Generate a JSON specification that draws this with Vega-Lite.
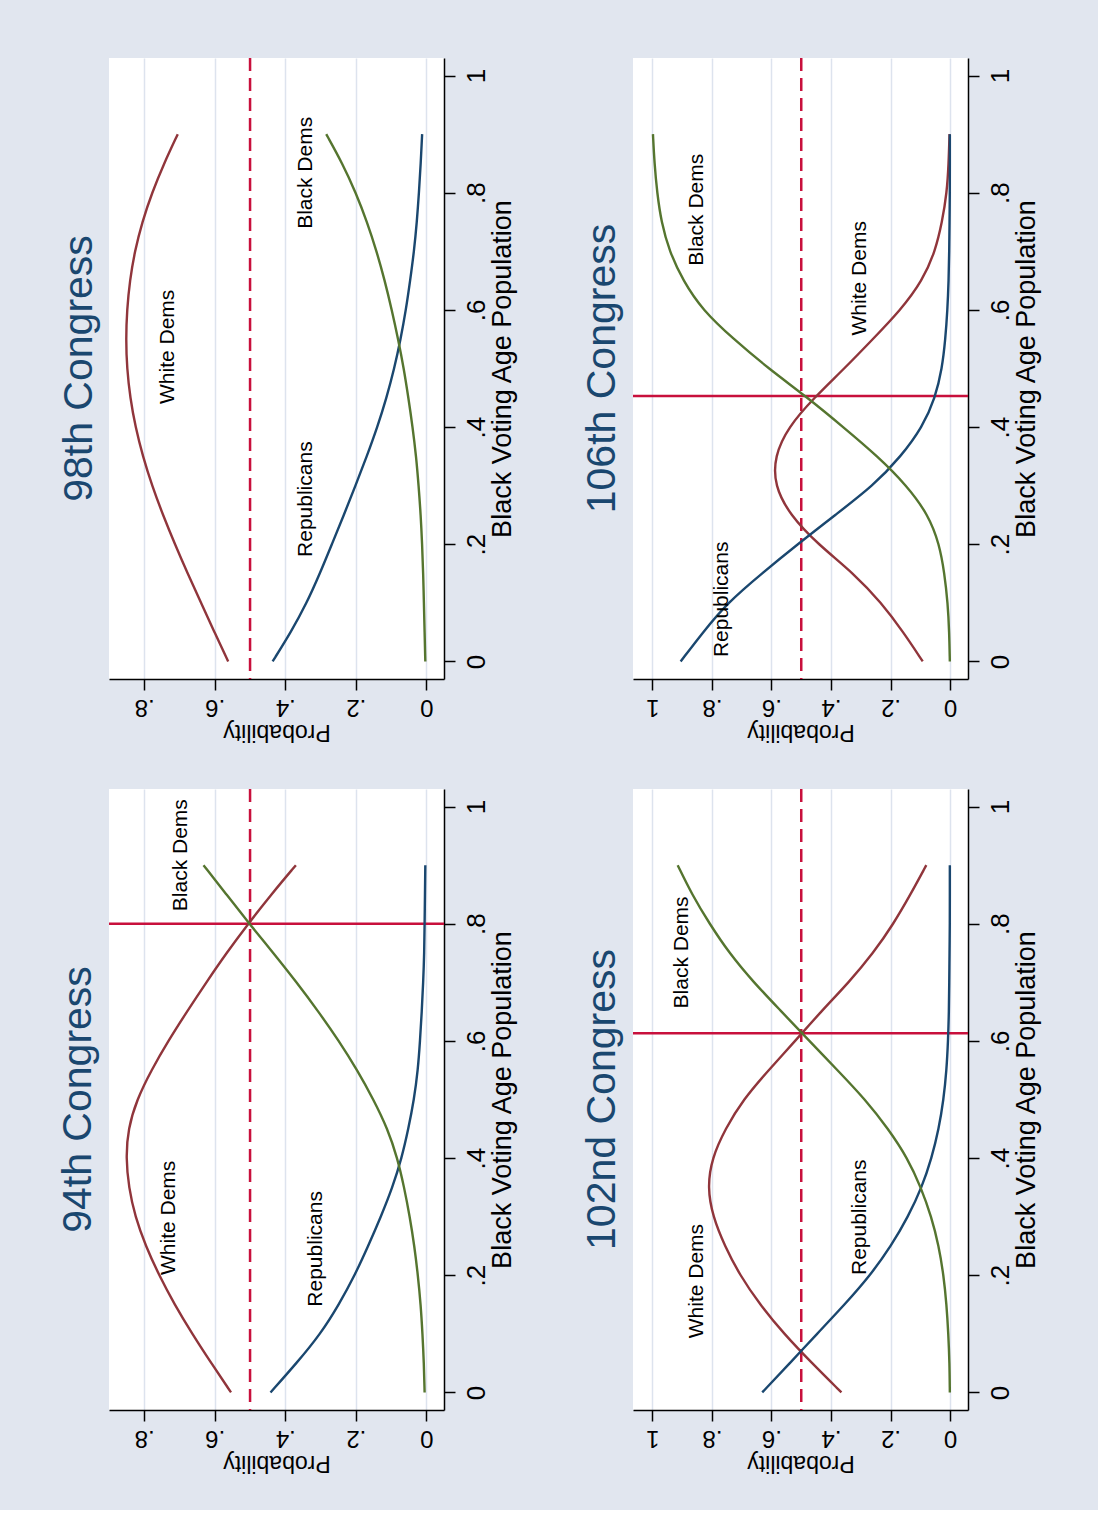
{
  "$schema": "https://vega.github.io/schema/vega-lite/v6.json",
  "background": "#e1e6ef",
  "padding": {"left": 57, "top": 56, "right": 58, "bottom": 37},
  "autosize": {"type": "pad"},
  "columns": 2,
  "bounds": "flush",
  "spacing": {"row": 110, "column": 189},
  "datasets": {
    "curves": [
      {"panel":"94","party":"White Dems","bvap":0,"prob":0.554},{"panel":"94","party":"White Dems","bvap":0.05,"prob":0.61},{"panel":"94","party":"White Dems","bvap":0.1,"prob":0.664},{"panel":"94","party":"White Dems","bvap":0.15,"prob":0.714},{"panel":"94","party":"White Dems","bvap":0.2,"prob":0.758},{"panel":"94","party":"White Dems","bvap":0.25,"prob":0.796},{"panel":"94","party":"White Dems","bvap":0.3,"prob":0.826},{"panel":"94","party":"White Dems","bvap":0.35,"prob":0.844},{"panel":"94","party":"White Dems","bvap":0.4,"prob":0.852},{"panel":"94","party":"White Dems","bvap":0.45,"prob":0.846},{"panel":"94","party":"White Dems","bvap":0.5,"prob":0.821},{"panel":"94","party":"White Dems","bvap":0.55,"prob":0.78},{"panel":"94","party":"White Dems","bvap":0.6,"prob":0.732},{"panel":"94","party":"White Dems","bvap":0.65,"prob":0.679},{"panel":"94","party":"White Dems","bvap":0.7,"prob":0.624},{"panel":"94","party":"White Dems","bvap":0.75,"prob":0.567},{"panel":"94","party":"White Dems","bvap":0.8,"prob":0.505},{"panel":"94","party":"White Dems","bvap":0.85,"prob":0.44},{"panel":"94","party":"White Dems","bvap":0.9,"prob":0.37},
      {"panel":"94","party":"Republicans","bvap":0,"prob":0.442},{"panel":"94","party":"Republicans","bvap":0.05,"prob":0.368},{"panel":"94","party":"Republicans","bvap":0.1,"prob":0.3},{"panel":"94","party":"Republicans","bvap":0.15,"prob":0.248},{"panel":"94","party":"Republicans","bvap":0.2,"prob":0.203},{"panel":"94","party":"Republicans","bvap":0.25,"prob":0.165},{"panel":"94","party":"Republicans","bvap":0.3,"prob":0.129},{"panel":"94","party":"Republicans","bvap":0.35,"prob":0.096},{"panel":"94","party":"Republicans","bvap":0.4,"prob":0.07},{"panel":"94","party":"Republicans","bvap":0.45,"prob":0.051},{"panel":"94","party":"Republicans","bvap":0.5,"prob":0.035},{"panel":"94","party":"Republicans","bvap":0.55,"prob":0.024},{"panel":"94","party":"Republicans","bvap":0.6,"prob":0.018},{"panel":"94","party":"Republicans","bvap":0.65,"prob":0.013},{"panel":"94","party":"Republicans","bvap":0.7,"prob":0.009},{"panel":"94","party":"Republicans","bvap":0.75,"prob":0.006},{"panel":"94","party":"Republicans","bvap":0.8,"prob":0.005},{"panel":"94","party":"Republicans","bvap":0.85,"prob":0.004},{"panel":"94","party":"Republicans","bvap":0.9,"prob":0.003},
      {"panel":"94","party":"Black Dems","bvap":0,"prob":0.005},{"panel":"94","party":"Black Dems","bvap":0.05,"prob":0.007},{"panel":"94","party":"Black Dems","bvap":0.1,"prob":0.011},{"panel":"94","party":"Black Dems","bvap":0.15,"prob":0.016},{"panel":"94","party":"Black Dems","bvap":0.2,"prob":0.024},{"panel":"94","party":"Black Dems","bvap":0.25,"prob":0.034},{"panel":"94","party":"Black Dems","bvap":0.3,"prob":0.047},{"panel":"94","party":"Black Dems","bvap":0.35,"prob":0.063},{"panel":"94","party":"Black Dems","bvap":0.4,"prob":0.082},{"panel":"94","party":"Black Dems","bvap":0.45,"prob":0.11},{"panel":"94","party":"Black Dems","bvap":0.5,"prob":0.15},{"panel":"94","party":"Black Dems","bvap":0.55,"prob":0.196},{"panel":"94","party":"Black Dems","bvap":0.6,"prob":0.248},{"panel":"94","party":"Black Dems","bvap":0.65,"prob":0.306},{"panel":"94","party":"Black Dems","bvap":0.7,"prob":0.368},{"panel":"94","party":"Black Dems","bvap":0.75,"prob":0.434},{"panel":"94","party":"Black Dems","bvap":0.8,"prob":0.502},{"panel":"94","party":"Black Dems","bvap":0.85,"prob":0.567},{"panel":"94","party":"Black Dems","bvap":0.9,"prob":0.632},
      {"panel":"98","party":"White Dems","bvap":0,"prob":0.562},{"panel":"98","party":"White Dems","bvap":0.05,"prob":0.601},{"panel":"98","party":"White Dems","bvap":0.1,"prob":0.639},{"panel":"98","party":"White Dems","bvap":0.15,"prob":0.677},{"panel":"98","party":"White Dems","bvap":0.2,"prob":0.713},{"panel":"98","party":"White Dems","bvap":0.25,"prob":0.747},{"panel":"98","party":"White Dems","bvap":0.3,"prob":0.778},{"panel":"98","party":"White Dems","bvap":0.35,"prob":0.804},{"panel":"98","party":"White Dems","bvap":0.4,"prob":0.825},{"panel":"98","party":"White Dems","bvap":0.45,"prob":0.84},{"panel":"98","party":"White Dems","bvap":0.5,"prob":0.849},{"panel":"98","party":"White Dems","bvap":0.55,"prob":0.852},{"panel":"98","party":"White Dems","bvap":0.6,"prob":0.849},{"panel":"98","party":"White Dems","bvap":0.65,"prob":0.841},{"panel":"98","party":"White Dems","bvap":0.7,"prob":0.827},{"panel":"98","party":"White Dems","bvap":0.75,"prob":0.806},{"panel":"98","party":"White Dems","bvap":0.8,"prob":0.778},{"panel":"98","party":"White Dems","bvap":0.85,"prob":0.744},{"panel":"98","party":"White Dems","bvap":0.9,"prob":0.705},
      {"panel":"98","party":"Republicans","bvap":0,"prob":0.436},{"panel":"98","party":"Republicans","bvap":0.05,"prob":0.384},{"panel":"98","party":"Republicans","bvap":0.1,"prob":0.339},{"panel":"98","party":"Republicans","bvap":0.15,"prob":0.302},{"panel":"98","party":"Republicans","bvap":0.2,"prob":0.268},{"panel":"98","party":"Republicans","bvap":0.25,"prob":0.234},{"panel":"98","party":"Republicans","bvap":0.3,"prob":0.201},{"panel":"98","party":"Republicans","bvap":0.35,"prob":0.169},{"panel":"98","party":"Republicans","bvap":0.4,"prob":0.139},{"panel":"98","party":"Republicans","bvap":0.45,"prob":0.113},{"panel":"98","party":"Republicans","bvap":0.5,"prob":0.091},{"panel":"98","party":"Republicans","bvap":0.55,"prob":0.073},{"panel":"98","party":"Republicans","bvap":0.6,"prob":0.058},{"panel":"98","party":"Republicans","bvap":0.65,"prob":0.046},{"panel":"98","party":"Republicans","bvap":0.7,"prob":0.035},{"panel":"98","party":"Republicans","bvap":0.75,"prob":0.027},{"panel":"98","party":"Republicans","bvap":0.8,"prob":0.021},{"panel":"98","party":"Republicans","bvap":0.85,"prob":0.016},{"panel":"98","party":"Republicans","bvap":0.9,"prob":0.012},
      {"panel":"98","party":"Black Dems","bvap":0,"prob":0.003},{"panel":"98","party":"Black Dems","bvap":0.05,"prob":0.005},{"panel":"98","party":"Black Dems","bvap":0.1,"prob":0.007},{"panel":"98","party":"Black Dems","bvap":0.15,"prob":0.009},{"panel":"98","party":"Black Dems","bvap":0.2,"prob":0.012},{"panel":"98","party":"Black Dems","bvap":0.25,"prob":0.016},{"panel":"98","party":"Black Dems","bvap":0.3,"prob":0.022},{"panel":"98","party":"Black Dems","bvap":0.35,"prob":0.029},{"panel":"98","party":"Black Dems","bvap":0.4,"prob":0.039},{"panel":"98","party":"Black Dems","bvap":0.45,"prob":0.051},{"panel":"98","party":"Black Dems","bvap":0.5,"prob":0.064},{"panel":"98","party":"Black Dems","bvap":0.55,"prob":0.08},{"panel":"98","party":"Black Dems","bvap":0.6,"prob":0.098},{"panel":"98","party":"Black Dems","bvap":0.65,"prob":0.118},{"panel":"98","party":"Black Dems","bvap":0.7,"prob":0.141},{"panel":"98","party":"Black Dems","bvap":0.75,"prob":0.168},{"panel":"98","party":"Black Dems","bvap":0.8,"prob":0.2},{"panel":"98","party":"Black Dems","bvap":0.85,"prob":0.238},{"panel":"98","party":"Black Dems","bvap":0.9,"prob":0.284},
      {"panel":"102","party":"White Dems","bvap":0,"prob":0.365},{"panel":"102","party":"White Dems","bvap":0.05,"prob":0.464},{"panel":"102","party":"White Dems","bvap":0.1,"prob":0.558},{"panel":"102","party":"White Dems","bvap":0.15,"prob":0.639},{"panel":"102","party":"White Dems","bvap":0.2,"prob":0.706},{"panel":"102","party":"White Dems","bvap":0.25,"prob":0.757},{"panel":"102","party":"White Dems","bvap":0.3,"prob":0.797},{"panel":"102","party":"White Dems","bvap":0.35,"prob":0.815},{"panel":"102","party":"White Dems","bvap":0.4,"prob":0.8},{"panel":"102","party":"White Dems","bvap":0.45,"prob":0.755},{"panel":"102","party":"White Dems","bvap":0.5,"prob":0.695},{"panel":"102","party":"White Dems","bvap":0.55,"prob":0.61},{"panel":"102","party":"White Dems","bvap":0.6,"prob":0.52},{"panel":"102","party":"White Dems","bvap":0.65,"prob":0.434},{"panel":"102","party":"White Dems","bvap":0.7,"prob":0.34},{"panel":"102","party":"White Dems","bvap":0.75,"prob":0.258},{"panel":"102","party":"White Dems","bvap":0.8,"prob":0.19},{"panel":"102","party":"White Dems","bvap":0.85,"prob":0.133},{"panel":"102","party":"White Dems","bvap":0.9,"prob":0.08},
      {"panel":"102","party":"Republicans","bvap":0,"prob":0.631},{"panel":"102","party":"Republicans","bvap":0.05,"prob":0.538},{"panel":"102","party":"Republicans","bvap":0.1,"prob":0.447},{"panel":"102","party":"Republicans","bvap":0.15,"prob":0.354},{"panel":"102","party":"Republicans","bvap":0.2,"prob":0.268},{"panel":"102","party":"Republicans","bvap":0.25,"prob":0.198},{"panel":"102","party":"Republicans","bvap":0.3,"prob":0.141},{"panel":"102","party":"Republicans","bvap":0.35,"prob":0.095},{"panel":"102","party":"Republicans","bvap":0.4,"prob":0.062},{"panel":"102","party":"Republicans","bvap":0.45,"prob":0.038},{"panel":"102","party":"Republicans","bvap":0.5,"prob":0.022},{"panel":"102","party":"Republicans","bvap":0.55,"prob":0.012},{"panel":"102","party":"Republicans","bvap":0.6,"prob":0.007},{"panel":"102","party":"Republicans","bvap":0.65,"prob":0.004},{"panel":"102","party":"Republicans","bvap":0.7,"prob":0.003},{"panel":"102","party":"Republicans","bvap":0.75,"prob":0.002},{"panel":"102","party":"Republicans","bvap":0.8,"prob":0.001},{"panel":"102","party":"Republicans","bvap":0.85,"prob":0.001},{"panel":"102","party":"Republicans","bvap":0.9,"prob":0.001},
      {"panel":"102","party":"Black Dems","bvap":0,"prob":0.001},{"panel":"102","party":"Black Dems","bvap":0.05,"prob":0.002},{"panel":"102","party":"Black Dems","bvap":0.1,"prob":0.006},{"panel":"102","party":"Black Dems","bvap":0.15,"prob":0.012},{"panel":"102","party":"Black Dems","bvap":0.2,"prob":0.022},{"panel":"102","party":"Black Dems","bvap":0.25,"prob":0.038},{"panel":"102","party":"Black Dems","bvap":0.3,"prob":0.063},{"panel":"102","party":"Black Dems","bvap":0.35,"prob":0.098},{"panel":"102","party":"Black Dems","bvap":0.4,"prob":0.143},{"panel":"102","party":"Black Dems","bvap":0.45,"prob":0.208},{"panel":"102","party":"Black Dems","bvap":0.5,"prob":0.285},{"panel":"102","party":"Black Dems","bvap":0.55,"prob":0.378},{"panel":"102","party":"Black Dems","bvap":0.6,"prob":0.473},{"panel":"102","party":"Black Dems","bvap":0.65,"prob":0.566},{"panel":"102","party":"Black Dems","bvap":0.7,"prob":0.66},{"panel":"102","party":"Black Dems","bvap":0.75,"prob":0.742},{"panel":"102","party":"Black Dems","bvap":0.8,"prob":0.808},{"panel":"102","party":"Black Dems","bvap":0.85,"prob":0.867},{"panel":"102","party":"Black Dems","bvap":0.9,"prob":0.915},
      {"panel":"106","party":"White Dems","bvap":0,"prob":0.092},{"panel":"106","party":"White Dems","bvap":0.05,"prob":0.157},{"panel":"106","party":"White Dems","bvap":0.1,"prob":0.231},{"panel":"106","party":"White Dems","bvap":0.15,"prob":0.323},{"panel":"106","party":"White Dems","bvap":0.2,"prob":0.444},{"panel":"106","party":"White Dems","bvap":0.25,"prob":0.538},{"panel":"106","party":"White Dems","bvap":0.3,"prob":0.59},{"panel":"106","party":"White Dems","bvap":0.35,"prob":0.59},{"panel":"106","party":"White Dems","bvap":0.4,"prob":0.544},{"panel":"106","party":"White Dems","bvap":0.45,"prob":0.457},{"panel":"106","party":"White Dems","bvap":0.5,"prob":0.355},{"panel":"106","party":"White Dems","bvap":0.55,"prob":0.26},{"panel":"106","party":"White Dems","bvap":0.6,"prob":0.166},{"panel":"106","party":"White Dems","bvap":0.65,"prob":0.093},{"panel":"106","party":"White Dems","bvap":0.7,"prob":0.05},{"panel":"106","party":"White Dems","bvap":0.75,"prob":0.027},{"panel":"106","party":"White Dems","bvap":0.8,"prob":0.011},{"panel":"106","party":"White Dems","bvap":0.85,"prob":0.005},{"panel":"106","party":"White Dems","bvap":0.9,"prob":0.002},
      {"panel":"106","party":"Republicans","bvap":0,"prob":0.905},{"panel":"106","party":"Republicans","bvap":0.05,"prob":0.83},{"panel":"106","party":"Republicans","bvap":0.1,"prob":0.748},{"panel":"106","party":"Republicans","bvap":0.15,"prob":0.633},{"panel":"106","party":"Republicans","bvap":0.2,"prob":0.512},{"panel":"106","party":"Republicans","bvap":0.25,"prob":0.386},{"panel":"106","party":"Republicans","bvap":0.3,"prob":0.258},{"panel":"106","party":"Republicans","bvap":0.35,"prob":0.165},{"panel":"106","party":"Republicans","bvap":0.4,"prob":0.093},{"panel":"106","party":"Republicans","bvap":0.45,"prob":0.05},{"panel":"106","party":"Republicans","bvap":0.5,"prob":0.027},{"panel":"106","party":"Republicans","bvap":0.55,"prob":0.016},{"panel":"106","party":"Republicans","bvap":0.6,"prob":0.009},{"panel":"106","party":"Republicans","bvap":0.65,"prob":0.005},{"panel":"106","party":"Republicans","bvap":0.7,"prob":0.003},{"panel":"106","party":"Republicans","bvap":0.75,"prob":0.002},{"panel":"106","party":"Republicans","bvap":0.8,"prob":0.001},{"panel":"106","party":"Republicans","bvap":0.85,"prob":0.001},{"panel":"106","party":"Republicans","bvap":0.9,"prob":0.001},
      {"panel":"106","party":"Black Dems","bvap":0,"prob":0.001},{"panel":"106","party":"Black Dems","bvap":0.05,"prob":0.003},{"panel":"106","party":"Black Dems","bvap":0.1,"prob":0.008},{"panel":"106","party":"Black Dems","bvap":0.15,"prob":0.019},{"panel":"106","party":"Black Dems","bvap":0.2,"prob":0.036},{"panel":"106","party":"Black Dems","bvap":0.25,"prob":0.073},{"panel":"106","party":"Black Dems","bvap":0.3,"prob":0.145},{"panel":"106","party":"Black Dems","bvap":0.35,"prob":0.243},{"panel":"106","party":"Black Dems","bvap":0.4,"prob":0.359},{"panel":"106","party":"Black Dems","bvap":0.45,"prob":0.478},{"panel":"106","party":"Black Dems","bvap":0.5,"prob":0.61},{"panel":"106","party":"Black Dems","bvap":0.55,"prob":0.727},{"panel":"106","party":"Black Dems","bvap":0.6,"prob":0.832},{"panel":"106","party":"Black Dems","bvap":0.65,"prob":0.897},{"panel":"106","party":"Black Dems","bvap":0.7,"prob":0.943},{"panel":"106","party":"Black Dems","bvap":0.75,"prob":0.97},{"panel":"106","party":"Black Dems","bvap":0.8,"prob":0.984},{"panel":"106","party":"Black Dems","bvap":0.85,"prob":0.993},{"panel":"106","party":"Black Dems","bvap":0.9,"prob":0.998}
    ],
    "labels": [
      {"panel":"94","label":"White Dems","prob":0.729,"bvap":0.298},
      {"panel":"94","label":"Republicans","prob":0.312,"bvap":0.245},
      {"panel":"94","label":"Black Dems","prob":0.696,"bvap":0.917},
      {"panel":"98","label":"White Dems","prob":0.733,"bvap":0.537},
      {"panel":"98","label":"Republicans","prob":0.341,"bvap":0.277},
      {"panel":"98","label":"Black Dems","prob":0.341,"bvap":0.834},
      {"panel":"102","label":"White Dems","prob":0.849,"bvap":0.19},
      {"panel":"102","label":"Republicans","prob":0.302,"bvap":0.299},
      {"panel":"102","label":"Black Dems","prob":0.9,"bvap":0.751},
      {"panel":"106","label":"Black Dems","prob":0.849,"bvap":0.771},
      {"panel":"106","label":"White Dems","prob":0.302,"bvap":0.654},
      {"panel":"106","label":"Republicans","prob":0.765,"bvap":0.106}
    ],
    "dashed": [
      {"panel":"94","prob":0.5},{"panel":"98","prob":0.5},{"panel":"102","prob":0.5},{"panel":"106","prob":0.5}
    ],
    "hline": [
      {"panel":"94","bvap":0.8},{"panel":"102","bvap":0.613},{"panel":"106","bvap":0.453}
    ]
  },
  "concat": [
    {
      "width": 335, "height": 621,
      "title": {"text": "98th Congress", "orient": "left", "anchor": "middle", "fontSize": 41, "font": "Liberation Sans", "fontWeight": "normal", "color": "#1a476f", "offset": 8},
      "layer": [
        {"data": {"name": "dashed"}, "transform": [{"filter": "datum.panel == '98'"}],
         "mark": {"type": "rule", "color": "#c8103c", "strokeWidth": 2.5, "strokeDash": [13, 7]},
         "encoding": {"x": {"field": "prob", "type": "quantitative", "scale": {"domain": [-0.05, 0.9], "reverse": true, "nice": false, "zero": false}, "axis": {"values": [0, 0.2, 0.4, 0.6, 0.8]}, "title": "Probability"}}},
        {"data": {"name": "curves"}, "transform": [{"filter": "datum.panel == '98'"}],
         "mark": {"type": "line", "strokeWidth": 2.4, "interpolate": "basis"},
         "encoding": {
           "x": {"field": "prob", "type": "quantitative", "scale": {"domain": [-0.05, 0.9], "reverse": true, "nice": false, "zero": false}, "axis": {"values": [0, 0.2, 0.4, 0.6, 0.8]}, "title": "Probability"},
           "y": {"field": "bvap", "type": "quantitative", "scale": {"domain": [-0.03, 1.03], "nice": false, "zero": false}, "axis": {"orient": "right", "values": [0, 0.2, 0.4, 0.6, 0.8, 1]}, "title": "Black Voting Age Population"},
           "color": {"field": "party", "type": "nominal", "scale": {"domain": ["White Dems", "Republicans", "Black Dems"], "range": ["#90353b", "#1a476f", "#55752f"]}, "legend": null},
           "order": {"field": "bvap", "type": "quantitative"}}},
        {"data": {"name": "labels"}, "transform": [{"filter": "datum.panel == '98'"}],
         "mark": {"type": "text", "angle": 270, "fontSize": 21, "font": "Liberation Sans", "color": "#000", "align": "center", "baseline": "middle"},
         "encoding": {
           "x": {"field": "prob", "type": "quantitative", "scale": {"domain": [-0.05, 0.9], "reverse": true, "nice": false, "zero": false}, "axis": {"values": [0, 0.2, 0.4, 0.6, 0.8]}, "title": "Probability"},
           "y": {"field": "bvap", "type": "quantitative", "scale": {"domain": [-0.03, 1.03], "nice": false, "zero": false}, "axis": {"orient": "right", "values": [0, 0.2, 0.4, 0.6, 0.8, 1]}, "title": "Black Voting Age Population"},
           "text": {"field": "label", "type": "nominal"}}}
      ]
    },
    {
      "width": 335, "height": 621,
      "title": {"text": "106th Congress", "orient": "left", "anchor": "middle", "fontSize": 41, "font": "Liberation Sans", "fontWeight": "normal", "color": "#1a476f", "offset": 8},
      "layer": [
        {"data": {"name": "dashed"}, "transform": [{"filter": "datum.panel == '106'"}],
         "mark": {"type": "rule", "color": "#c8103c", "strokeWidth": 2.5, "strokeDash": [13, 7]},
         "encoding": {"x": {"field": "prob", "type": "quantitative", "scale": {"domain": [-0.06, 1.065], "reverse": true, "nice": false, "zero": false}, "axis": {"values": [0, 0.2, 0.4, 0.6, 0.8, 1]}, "title": "Probability"}}},
        {"data": {"name": "hline"}, "transform": [{"filter": "datum.panel == '106'"}],
         "mark": {"type": "rule", "color": "#c8103c", "strokeWidth": 2.5},
         "encoding": {"y": {"field": "bvap", "type": "quantitative", "scale": {"domain": [-0.03, 1.03], "nice": false, "zero": false}, "axis": {"orient": "right", "values": [0, 0.2, 0.4, 0.6, 0.8, 1]}, "title": "Black Voting Age Population"}}},
        {"data": {"name": "curves"}, "transform": [{"filter": "datum.panel == '106'"}],
         "mark": {"type": "line", "strokeWidth": 2.4, "interpolate": "basis"},
         "encoding": {
           "x": {"field": "prob", "type": "quantitative", "scale": {"domain": [-0.06, 1.065], "reverse": true, "nice": false, "zero": false}, "axis": {"values": [0, 0.2, 0.4, 0.6, 0.8, 1]}, "title": "Probability"},
           "y": {"field": "bvap", "type": "quantitative", "scale": {"domain": [-0.03, 1.03], "nice": false, "zero": false}, "axis": {"orient": "right", "values": [0, 0.2, 0.4, 0.6, 0.8, 1]}, "title": "Black Voting Age Population"},
           "color": {"field": "party", "type": "nominal", "scale": {"domain": ["White Dems", "Republicans", "Black Dems"], "range": ["#90353b", "#1a476f", "#55752f"]}, "legend": null},
           "order": {"field": "bvap", "type": "quantitative"}}},
        {"data": {"name": "labels"}, "transform": [{"filter": "datum.panel == '106'"}],
         "mark": {"type": "text", "angle": 270, "fontSize": 21, "font": "Liberation Sans", "color": "#000", "align": "center", "baseline": "middle"},
         "encoding": {
           "x": {"field": "prob", "type": "quantitative", "scale": {"domain": [-0.06, 1.065], "reverse": true, "nice": false, "zero": false}, "axis": {"values": [0, 0.2, 0.4, 0.6, 0.8, 1]}, "title": "Probability"},
           "y": {"field": "bvap", "type": "quantitative", "scale": {"domain": [-0.03, 1.03], "nice": false, "zero": false}, "axis": {"orient": "right", "values": [0, 0.2, 0.4, 0.6, 0.8, 1]}, "title": "Black Voting Age Population"},
           "text": {"field": "label", "type": "nominal"}}}
      ]
    },
    {
      "width": 335, "height": 621,
      "title": {"text": "94th Congress", "orient": "left", "anchor": "middle", "fontSize": 41, "font": "Liberation Sans", "fontWeight": "normal", "color": "#1a476f", "offset": 8},
      "layer": [
        {"data": {"name": "dashed"}, "transform": [{"filter": "datum.panel == '94'"}],
         "mark": {"type": "rule", "color": "#c8103c", "strokeWidth": 2.5, "strokeDash": [13, 7]},
         "encoding": {"x": {"field": "prob", "type": "quantitative", "scale": {"domain": [-0.05, 0.9], "reverse": true, "nice": false, "zero": false}, "axis": {"values": [0, 0.2, 0.4, 0.6, 0.8]}, "title": "Probability"}}},
        {"data": {"name": "hline"}, "transform": [{"filter": "datum.panel == '94'"}],
         "mark": {"type": "rule", "color": "#c8103c", "strokeWidth": 2.5},
         "encoding": {"y": {"field": "bvap", "type": "quantitative", "scale": {"domain": [-0.03, 1.03], "nice": false, "zero": false}, "axis": {"orient": "right", "values": [0, 0.2, 0.4, 0.6, 0.8, 1]}, "title": "Black Voting Age Population"}}},
        {"data": {"name": "curves"}, "transform": [{"filter": "datum.panel == '94'"}],
         "mark": {"type": "line", "strokeWidth": 2.4, "interpolate": "basis"},
         "encoding": {
           "x": {"field": "prob", "type": "quantitative", "scale": {"domain": [-0.05, 0.9], "reverse": true, "nice": false, "zero": false}, "axis": {"values": [0, 0.2, 0.4, 0.6, 0.8]}, "title": "Probability"},
           "y": {"field": "bvap", "type": "quantitative", "scale": {"domain": [-0.03, 1.03], "nice": false, "zero": false}, "axis": {"orient": "right", "values": [0, 0.2, 0.4, 0.6, 0.8, 1]}, "title": "Black Voting Age Population"},
           "color": {"field": "party", "type": "nominal", "scale": {"domain": ["White Dems", "Republicans", "Black Dems"], "range": ["#90353b", "#1a476f", "#55752f"]}, "legend": null},
           "order": {"field": "bvap", "type": "quantitative"}}},
        {"data": {"name": "labels"}, "transform": [{"filter": "datum.panel == '94'"}],
         "mark": {"type": "text", "angle": 270, "fontSize": 21, "font": "Liberation Sans", "color": "#000", "align": "center", "baseline": "middle"},
         "encoding": {
           "x": {"field": "prob", "type": "quantitative", "scale": {"domain": [-0.05, 0.9], "reverse": true, "nice": false, "zero": false}, "axis": {"values": [0, 0.2, 0.4, 0.6, 0.8]}, "title": "Probability"},
           "y": {"field": "bvap", "type": "quantitative", "scale": {"domain": [-0.03, 1.03], "nice": false, "zero": false}, "axis": {"orient": "right", "values": [0, 0.2, 0.4, 0.6, 0.8, 1]}, "title": "Black Voting Age Population"},
           "text": {"field": "label", "type": "nominal"}}}
      ]
    },
    {
      "width": 335, "height": 621,
      "title": {"text": "102nd Congress", "orient": "left", "anchor": "middle", "fontSize": 41, "font": "Liberation Sans", "fontWeight": "normal", "color": "#1a476f", "offset": 8},
      "layer": [
        {"data": {"name": "dashed"}, "transform": [{"filter": "datum.panel == '102'"}],
         "mark": {"type": "rule", "color": "#c8103c", "strokeWidth": 2.5, "strokeDash": [13, 7]},
         "encoding": {"x": {"field": "prob", "type": "quantitative", "scale": {"domain": [-0.06, 1.065], "reverse": true, "nice": false, "zero": false}, "axis": {"values": [0, 0.2, 0.4, 0.6, 0.8, 1]}, "title": "Probability"}}},
        {"data": {"name": "hline"}, "transform": [{"filter": "datum.panel == '102'"}],
         "mark": {"type": "rule", "color": "#c8103c", "strokeWidth": 2.5},
         "encoding": {"y": {"field": "bvap", "type": "quantitative", "scale": {"domain": [-0.03, 1.03], "nice": false, "zero": false}, "axis": {"orient": "right", "values": [0, 0.2, 0.4, 0.6, 0.8, 1]}, "title": "Black Voting Age Population"}}},
        {"data": {"name": "curves"}, "transform": [{"filter": "datum.panel == '102'"}],
         "mark": {"type": "line", "strokeWidth": 2.4, "interpolate": "basis"},
         "encoding": {
           "x": {"field": "prob", "type": "quantitative", "scale": {"domain": [-0.06, 1.065], "reverse": true, "nice": false, "zero": false}, "axis": {"values": [0, 0.2, 0.4, 0.6, 0.8, 1]}, "title": "Probability"},
           "y": {"field": "bvap", "type": "quantitative", "scale": {"domain": [-0.03, 1.03], "nice": false, "zero": false}, "axis": {"orient": "right", "values": [0, 0.2, 0.4, 0.6, 0.8, 1]}, "title": "Black Voting Age Population"},
           "color": {"field": "party", "type": "nominal", "scale": {"domain": ["White Dems", "Republicans", "Black Dems"], "range": ["#90353b", "#1a476f", "#55752f"]}, "legend": null},
           "order": {"field": "bvap", "type": "quantitative"}}},
        {"data": {"name": "labels"}, "transform": [{"filter": "datum.panel == '102'"}],
         "mark": {"type": "text", "angle": 270, "fontSize": 21, "font": "Liberation Sans", "color": "#000", "align": "center", "baseline": "middle"},
         "encoding": {
           "x": {"field": "prob", "type": "quantitative", "scale": {"domain": [-0.06, 1.065], "reverse": true, "nice": false, "zero": false}, "axis": {"values": [0, 0.2, 0.4, 0.6, 0.8, 1]}, "title": "Probability"},
           "y": {"field": "bvap", "type": "quantitative", "scale": {"domain": [-0.03, 1.03], "nice": false, "zero": false}, "axis": {"orient": "right", "values": [0, 0.2, 0.4, 0.6, 0.8, 1]}, "title": "Black Voting Age Population"},
           "text": {"field": "label", "type": "nominal"}}}
      ]
    }
  ],
  "config": {
    "view": {"stroke": null, "fill": "white"},
    "font": "Liberation Sans",
    "axis": {
      "labelFont": "Liberation Sans", "titleFont": "Liberation Sans",
      "labelColor": "#000", "titleColor": "#000", "domainColor": "#000", "tickColor": "#000",
      "domainWidth": 1.5, "tickWidth": 1.5, "tickSize": 11, "titleFontWeight": "normal",
      "labelOverlap": false, "labelFlush": false,
      "labelExpr": "datum.value == 0 ? '0' : datum.value == 1 ? '1' : replace(format(datum.value, '.1f'), '0.', '.')"
    },
    "axisX": {"grid": true, "gridColor": "#dde3ee", "gridWidth": 1.5, "labelAngle": 180, "titleAngle": 180, "labelFontSize": 24, "titleFontSize": 23, "labelPadding": 4, "titlePadding": 24},
    "axisY": {"grid": false, "labelAngle": 270, "titleAngle": 270, "labelFontSize": 26, "titleFontSize": 27, "labelPadding": 8, "titlePadding": 27}
  }
}
